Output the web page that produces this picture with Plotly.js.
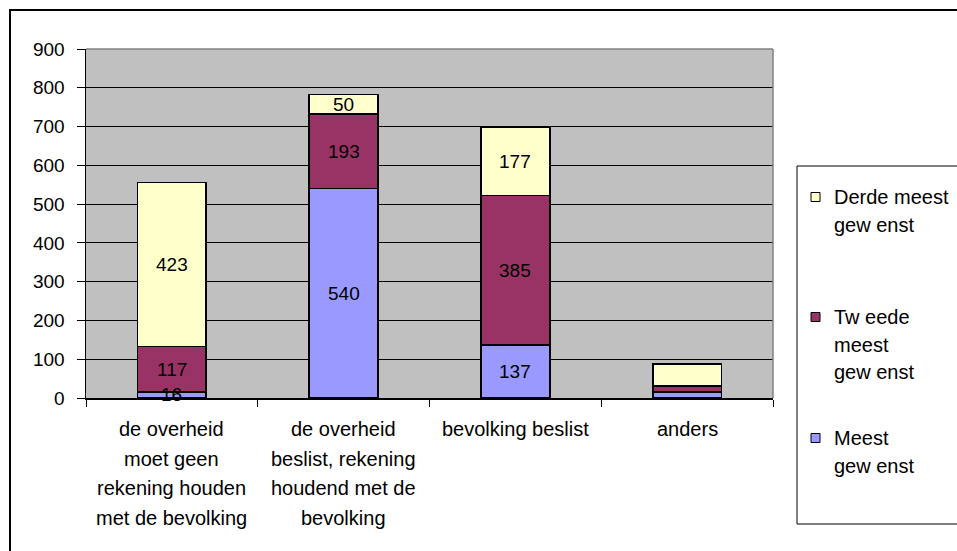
<!DOCTYPE html>
<html>
<head>
<meta charset="utf-8">
<script src="https://cdn.plot.ly/plotly-3.0.1.min.js"></script>
<style>html,body{margin:0;padding:0;background:#fff;}#chart{width:957px;height:551px;}</style>
</head>
<body>
<div id="chart"></div>
<script>
// ---- data ----
const categories = [
  'de overheid\nmoet geen\nrekening houden\nmet de bevolking',
  'de overheid\nbeslist, rekening\nhoudend met de\nbevolking',
  'bevolking beslist',
  'anders'
];
const meestGewenst = [16, 540, 137, 15];
const tweedeGewenst = [117, 193, 385, 16];
const derdeGewenst = [423, 50, 177, 57];
const showValueLabel = [true, true, true, false];
const seriesNames = ['Meest\ngew enst', 'Tw eede\nmeest\ngew enst', 'Derde meest\ngew enst'];
const yTickValues = [0, 100, 200, 300, 400, 500, 600, 700, 800, 900];

// ---- styling / layout constants ----
const W = 957, H = 551;
const PL = 86, PR = 773, PT = 49, PB = 398;
const FONT = 'Liberation Sans, Arial, sans-serif';
const colors = ['#9999FF', '#993366', '#FFFFCC'];
const px = x => (x - PL) / (PR - PL);
const py = y => (PB - y) / (PB - PT);

const seriesValues = [meestGewenst, tweedeGewenst, derdeGewenst];
const traces = seriesValues.map((vals, s) => ({
  type: 'bar',
  x: categories,
  y: vals,
  name: seriesNames[s].replace(/\n/g, ' '),
  marker: {color: colors[s], line: {color: '#000000', width: 1.6}},
  hoverinfo: 'skip',
  showlegend: false
}));

const annotations = [];
const shapes = [];

// value labels, centered in each stacked segment (data coordinates)
categories.forEach((cat, i) => {
  if (!showValueLabel[i]) return;
  let base = 0;
  seriesValues.forEach(vals => {
    const v = vals[i];
    annotations.push({
      xref: 'x', yref: 'y', x: cat, y: base + v / 2,
      text: String(v), showarrow: false, xanchor: 'center', yanchor: 'middle',
      font: {family: FONT, size: 19, color: '#000000'}
    });
    base += v;
  });
});

// category labels (multi-line, Excel-like spacing)
categories.forEach(cat => {
  cat.split('\n').forEach((line, j) => {
    annotations.push({
      xref: 'x', yref: 'paper', x: cat, y: py(429 + j * 29.6),
      text: line, showarrow: false, xanchor: 'center', yanchor: 'middle',
      font: {family: FONT, size: 20, color: '#000000'}
    });
  });
});

// plot area top/right border (gray)
shapes.push({type: 'line', xref: 'paper', yref: 'paper', x0: 0, x1: 1, y0: 1, y1: 1, line: {color: '#808080', width: 1.5}});
shapes.push({type: 'line', xref: 'paper', yref: 'paper', x0: 1, x1: 1, y0: 0, y1: 1, line: {color: '#808080', width: 1.5}});

// outer chart border
shapes.push({type: 'rect', xref: 'paper', yref: 'paper', x0: px(10), x1: px(970), y0: py(600), y1: py(10), line: {color: '#000000', width: 2}, fillcolor: 'rgba(0,0,0,0)'});

// legend box
shapes.push({type: 'rect', xref: 'paper', yref: 'paper', x0: px(797), x1: px(975), y0: py(524), y1: py(166), line: {color: '#000000', width: 1}, fillcolor: 'rgba(0,0,0,0)'});

// legend entries (top to bottom: reversed series order)
const legendFirstY = [197, 317, 438];
const legendLineGap = 27.6;
[2, 1, 0].forEach((s, k) => {
  const y0 = legendFirstY[k];
  shapes.push({type: 'rect', xref: 'paper', yref: 'paper', x0: px(811), x1: px(820), y0: py(y0 + 4.5), y1: py(y0 - 4.5),
    fillcolor: colors[s], line: {color: '#000000', width: 1}});
  seriesNames[s].split('\n').forEach((line, j) => {
    annotations.push({
      xref: 'paper', yref: 'paper', x: px(832), y: py(y0 + j * legendLineGap),
      text: line, showarrow: false, xanchor: 'left', yanchor: 'middle',
      font: {family: FONT, size: 20, color: '#000000'}
    });
  });
});

const layout = {
  width: W, height: H,
  margin: {l: PL, r: W - PR, t: PT, b: H - PB, pad: 0},
  paper_bgcolor: '#FFFFFF',
  plot_bgcolor: '#C0C0C0',
  barmode: 'stack',
  bargap: 0.6,
  showlegend: false,
  font: {family: FONT, size: 19, color: '#000000'},
  xaxis: {
    type: 'category',
    showticklabels: false,
    ticks: 'outside', tickson: 'boundaries', ticklen: 7, tickcolor: '#000000', tickwidth: 1,
    showline: true, linecolor: '#000000', linewidth: 1.5,
    showgrid: false, zeroline: false, fixedrange: true
  },
  yaxis: {
    range: [0, 900],
    tickmode: 'array', tickvals: yTickValues, ticktext: yTickValues.map(String),
    ticks: 'outside', ticklen: 8, tickcolor: '#000000', tickwidth: 1,
    ticklabelstandoff: 8,
    tickfont: {family: FONT, size: 19, color: '#000000'},
    showline: true, linecolor: '#000000', linewidth: 1.5,
    showgrid: true, gridcolor: '#000000', gridwidth: 1,
    zeroline: false, fixedrange: true
  },
  annotations: annotations,
  shapes: shapes
};

Plotly.newPlot('chart', traces, layout, {staticPlot: true, displayModeBar: false});
</script>
</body>
</html>
